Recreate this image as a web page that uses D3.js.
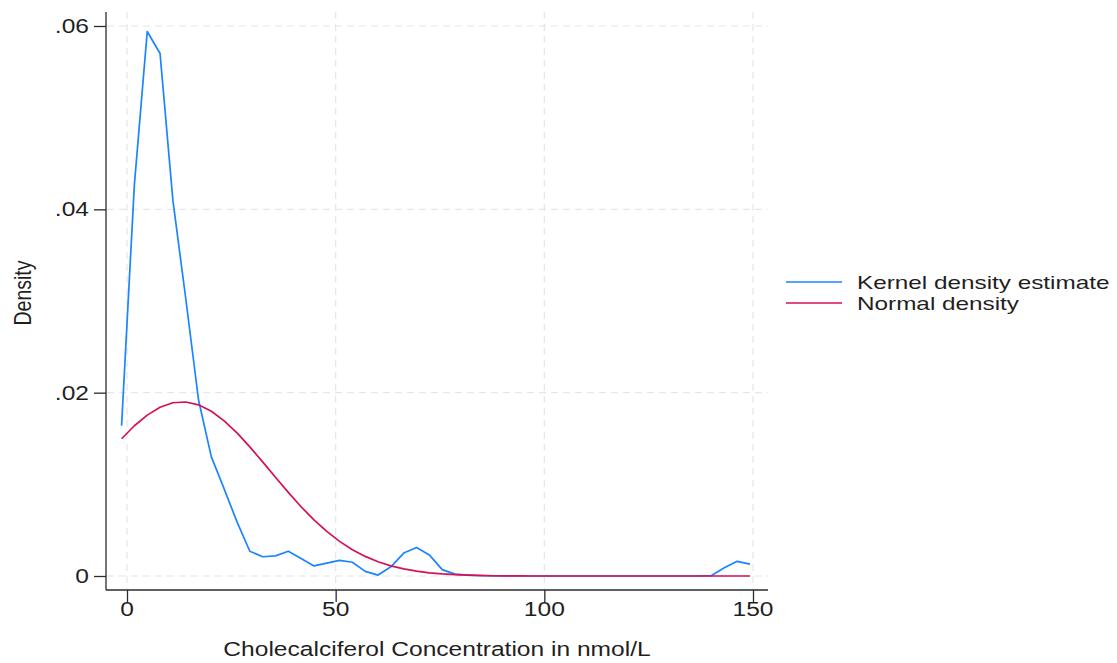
<!DOCTYPE html>
<html>
<head>
<meta charset="utf-8">
<script src="https://cdn.jsdelivr.net/npm/d3@7"></script>
<style>
  html, body { margin: 0; padding: 0; background: #ffffff; }
  svg { display: block; }
  text { font-family: "Liberation Sans", Arial, Helvetica, sans-serif; fill: #1f1f1f; }
</style>
</head>
<body>
<svg id="chart" width="1117" height="663"></svg>
<script>
// Evaluation grid (nmol/L) shared by both density curves
const gridX = [-1.30, 1.77, 4.85, 7.92, 10.99, 14.07, 17.14, 20.21, 23.28, 26.36,
  29.43, 32.50, 35.58, 38.65, 41.72, 44.80, 47.87, 50.94, 54.01, 57.09,
  60.16, 63.23, 66.31, 69.38, 72.45, 75.53, 78.60, 81.67, 84.74, 87.82,
  90.89, 93.96, 97.04, 100.11, 103.18, 106.26, 109.33, 112.40, 115.47, 118.55,
  121.62, 124.69, 127.77, 130.84, 133.91, 136.99, 140.06, 143.13, 146.21, 149.28];

// Kernel density estimate
const kdeValues = [0.0164, 0.0427, 0.0594, 0.0570, 0.0410, 0.0303, 0.0192, 0.0130, 0.0095, 0.0059,
  0.0027, 0.0021, 0.0022, 0.0027, 0.0019, 0.0011, 0.0014, 0.0017, 0.0015, 0.0005,
  0.0001, 0.0010, 0.0025, 0.0031, 0.0023, 0.0007, 0.0002, 0.0001, 0.00003, 0,
  0, 0, 0, 0, 0, 0, 0, 0, 0, 0,
  0, 0, 0, 0, 0, 0, 0.00005, 0.0009, 0.0016, 0.0013];

// Normal density with matching mean and standard deviation
const normalValues = [0.01497, 0.01639, 0.01755, 0.01841, 0.01890, 0.01898, 0.01867, 0.01797, 0.01693, 0.01561,
  0.01409, 0.01245, 0.01077, 0.00912, 0.00755, 0.00613, 0.00486, 0.00378, 0.00287, 0.00214,
  0.00156, 0.00111, 0.00078, 0.00053, 0.00035, 0.00023, 0.00015, 0.00009, 0.00006, 0.00003,
  0.00002, 0.00001, 0, 0, 0, 0, 0, 0, 0, 0,
  0, 0, 0, 0, 0, 0, 0, 0, 0, 0];

const xTicks = [0, 50, 100, 150];
const yTicks = [0, 0.02, 0.04, 0.06];
const yTickLabels = ["0", ".02", ".04", ".06"];

const seriesNames = ["Kernel density estimate", "Normal density"];
const seriesColors = ["#1a85ff", "#d41159"];

const xTitle = "Cholecalciferol Concentration in nmol/L";
const yTitle = "Density";

// Layout
const svg = d3.select("#chart");
const FS = 19.5;     // font size
const SX = 1.26;     // horizontal text widening
const x = d3.scaleLinear().domain([0, 150]).range([127, 753]);
const y = d3.scaleLinear().domain([0, 0.06]).range([576, 26]);
const axisX = 106, axisY = 590, plotTop = 12, plotRight = 768;

function label(g, px, py, str, anchor, rotate, fs, sx) {
  const t = g.append("text")
    .attr("transform", `translate(${px},${py}) scale(${sx || SX},1)` + (rotate ? " rotate(-90)" : ""))
    .attr("text-anchor", anchor)
    .style("font-size", (fs || FS) + "px")
    .text(str);
  return t;
}

// Grid
const grid = svg.append("g").attr("stroke", "#e6e6e6").attr("stroke-width", 1.2)
  .attr("stroke-dasharray", "7,5").attr("fill", "none");
grid.selectAll("line.h").data(yTicks).join("line").attr("class", "h")
  .attr("x1", axisX + 1).attr("x2", plotRight)
  .attr("y1", d => y(d)).attr("y2", d => y(d));
grid.selectAll("line.v").data(xTicks).join("line").attr("class", "v")
  .attr("x1", d => x(d)).attr("x2", d => x(d))
  .attr("y1", plotTop).attr("y2", axisY - 1);

// Axes
const yAxis = d3.axisLeft(y).tickValues(yTicks).tickSize(12).tickFormat(() => "");
const gy = svg.append("g").attr("transform", `translate(${axisX},0)`).call(yAxis);
gy.select(".domain").attr("d", `M0,${plotTop}V${axisY}`);
const xAxis = d3.axisBottom(x).tickValues(xTicks).tickSize(12).tickFormat(() => "");
const gx = svg.append("g").attr("transform", `translate(0,${axisY})`).call(xAxis);
gx.select(".domain").attr("d", `M${axisX},0H${plotRight}`);
svg.selectAll(".domain, .tick line").attr("stroke", "#2b2b2b").attr("stroke-width", 1.3);

// Tick labels
const labels = svg.append("g");
yTicks.forEach((d, i) => label(labels, 89, y(d) + 7, yTickLabels[i], "end"));
xTicks.forEach(d => label(labels, x(d), 616, String(d), "middle"));

// Axis titles
label(labels, (axisX + plotRight) / 2, 656, xTitle, "middle");
label(labels, 31, 293, yTitle, "middle", true);

// Curves
const line = d3.line().x(d => x(d[0])).y(d => y(d[1]));
const curves = [kdeValues, normalValues];
curves.forEach((vals, k) => {
  svg.append("path")
    .datum(gridX.map((gx, i) => [gx, vals[i]]))
    .attr("fill", "none")
    .attr("stroke", seriesColors[k])
    .attr("stroke-width", 1.7)
    .attr("stroke-linejoin", "round")
    .attr("d", line);
});

// Legend
const legend = svg.append("g");
seriesNames.forEach((name, k) => {
  const ly = 282 + k * 21;
  legend.append("line")
    .attr("x1", 786).attr("x2", 842).attr("y1", ly).attr("y2", ly)
    .attr("stroke", seriesColors[k]).attr("stroke-width", 1.7);
  label(legend, 857, ly + 6.5, name, "start", false, 18, 1.35);
});
</script>
</body>
</html>
